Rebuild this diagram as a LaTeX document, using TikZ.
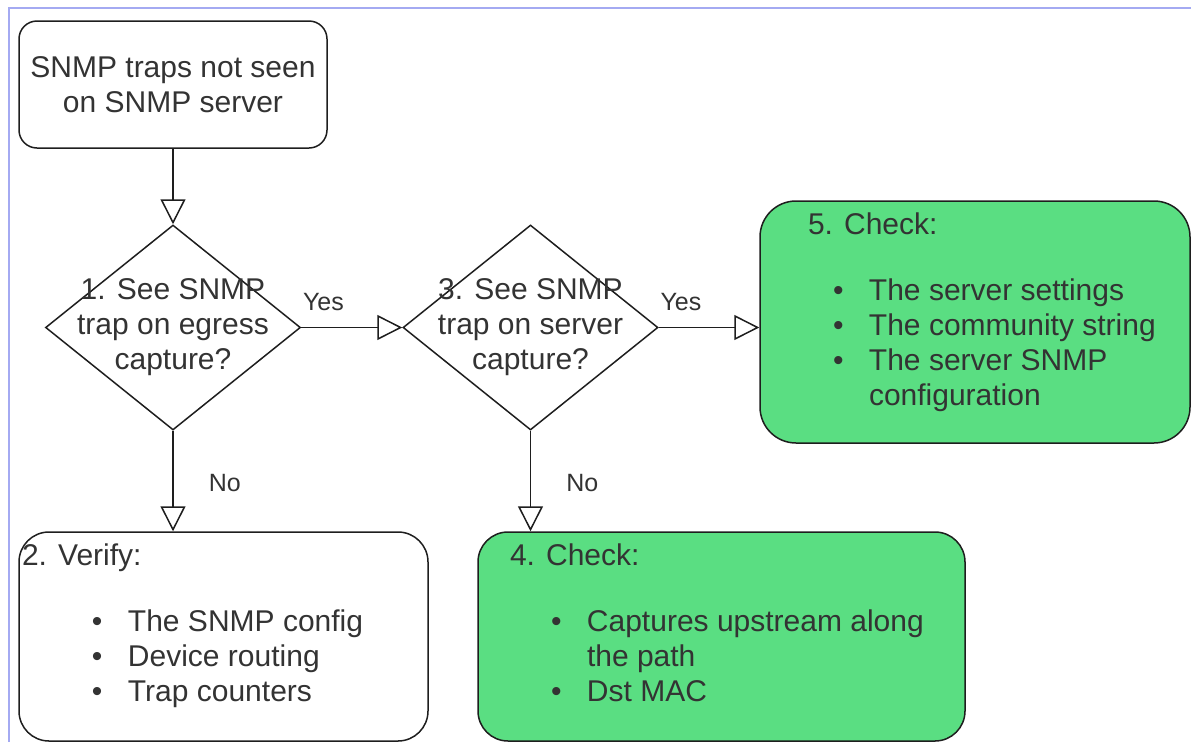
\documentclass[tikz,border=0pt]{standalone}
\usepackage{fontspec}
\setmainfont{Liberation Sans}
\definecolor{snInk}{HTML}{333333}
\definecolor{snLine}{HTML}{1E1E1E}
\definecolor{snGreen}{HTML}{5ADE82}
\definecolor{snFrame}{HTML}{A4AAF2}
\usetikzlibrary{positioning,arrows.meta,shapes.geometric}

% text of the boxes: heading, bullets, wrapped bullet line
\newcommand{\boxbody}[3]{\parbox[c][#2][t]{#1}{\fontsize{30}{35}\selectfont #3}}
\newcommand{\boxhead}[2]{\rule{0pt}{33pt}\hspace*{#1}#2\par\vspace{31pt}}
\newcommand{\boxitem}[1]{\par\hspace*{73pt}\makebox[36pt][l]{\textbullet}#1}
\newcommand{\boxmore}[1]{\par\hspace*{109pt}#1}

\begin{document}
\begin{tikzpicture}[x=1pt, y=-1pt,
    stepbox/.style={draw=snLine, line width=1.5pt, rounded corners=#1, inner sep=0pt,
      font=\fontsize{30}{35}\selectfont, text=snInk},
    stepbox/.default=30pt,
    checkbox/.style={stepbox=#1, fill=snGreen},
    checkbox/.default=30pt,
    decision/.style={diamond, draw=snLine, line width=1.5pt, inner sep=0pt,
      minimum width=255pt, minimum height=205pt},
    qtext/.style={align=center, font=\fontsize{30}{35}\selectfont, text=snInk},
    flow/.style={draw=snLine, line width=1.5pt,
      -{Triangle[open, length=25pt, width=25pt]}},
    answer/.style={font=\fontsize{25}{30}\selectfont, text=snInk, inner sep=0pt, anchor=base west}]
  \useasboundingbox (0,0) rectangle (1191,742);

  % edge of the page the chart sits on
  \draw[snFrame, line width=2.5pt] (9,742) -- (9,8) -- (1191,8);

  \node[stepbox=18pt, minimum width=308pt, minimum height=127pt, align=center] (start)
    at (173,84.5) {SNMP traps not seen\\on SNMP server};

  % the two questions
  \node[decision, label={[qtext]center:1. See SNMP\\trap on egress\\capture?}] (egress) at (173,327.5) {};
  \node[decision, label={[qtext]center:3. See SNMP\\trap on server\\capture?}] (server) at (530.5,327.5) {};

  % outcomes
  \node[stepbox] (verify) at (223.5,636.5) {\boxbody{409pt}{209pt}{%
    \boxhead{3pt}{2. Verify:}%
    \boxitem{The SNMP config}\boxitem{Device routing}\boxitem{Trap counters}}};
  \node[checkbox] (upstream) at (721.5,636.5) {\boxbody{487pt}{209pt}{%
    \boxhead{32pt}{4. Check:}%
    \boxitem{Captures upstream along}\boxmore{the path}\boxitem{Dst MAC}}};
  \node[checkbox=36pt] (settings) at (975,322) {\boxbody{430pt}{242pt}{%
    \boxhead{48pt}{5. Check:}%
    \boxitem{The server settings}\boxitem{The community string}%
    \boxitem{The server SNMP}\boxmore{configuration}}};

  \draw[flow] (start) -- (egress);
  \draw[flow] (egress.east) -- (server.west) node[answer, pos=0, xshift=1pt, yshift=17pt] {Yes};
  \draw[flow] (server.east) -- (server.east -| settings.west) node[answer, pos=0, xshift=1pt, yshift=17pt] {Yes};
  \draw[flow] (egress.south) -- (egress.south |- verify.north) node[answer, pos=0.6, xshift=35pt] {No};
  \draw[flow] (server.south) -- (server.south |- upstream.north) node[answer, pos=0.6, xshift=35pt] {No};
\end{tikzpicture}
\end{document}
